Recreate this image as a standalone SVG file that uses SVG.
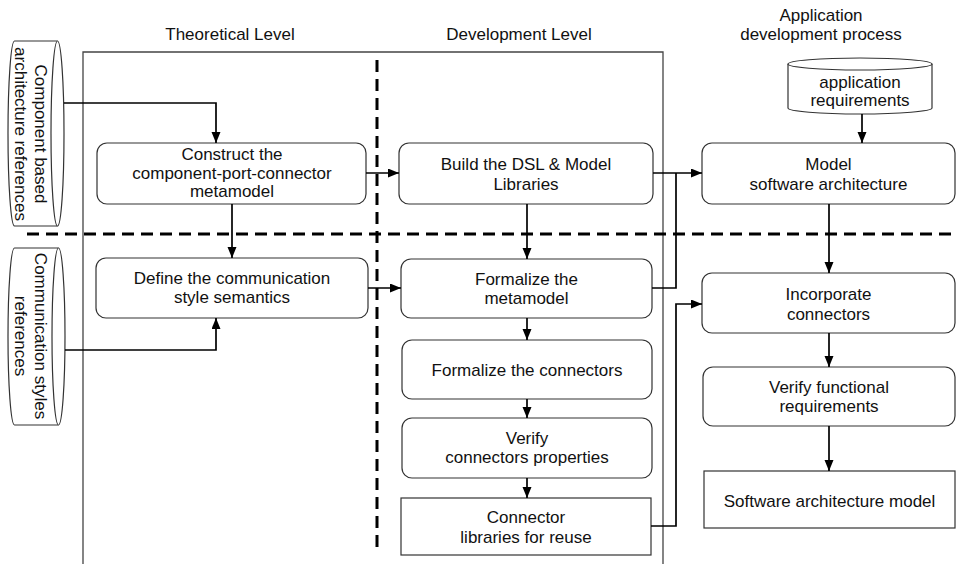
<svg xmlns="http://www.w3.org/2000/svg" width="956" height="564" viewBox="0 0 956 564">
<defs>
<style>
text{font-family:"Liberation Sans",Arial,sans-serif;font-size:17px;fill:#111;text-anchor:middle}
.box{fill:#fff;stroke:#333;stroke-width:1.2}
.frame{fill:none;stroke:#444;stroke-width:1.3}
.dash{fill:none;stroke:#000;stroke-width:3;stroke-dasharray:12 7}
.conn path{fill:none;stroke:#000;stroke-width:1.7}
.arr{marker-end:url(#ah)}
</style>
<marker id="ah" markerUnits="userSpaceOnUse" markerWidth="12" markerHeight="10" refX="11" refY="4.5" orient="auto">
<path d="M0,0 L11,4.5 L0,9 Z" fill="#000"/>
</marker>
</defs>
<rect width="956" height="564" fill="#fff"/>

<g id="headers">
<text x="230" y="40">Theoretical Level</text>
<text x="519" y="40">Development Level</text>
<text x="821" y="20.5">Application</text>
<text x="821" y="40">development process</text>
</g>

<path class="frame" d="M83,564 V52 H663 V564"/>
<g id="separators">
<path class="dash" d="M27,234 H956"/>
<path class="dash" d="M377,60 V552"/>
</g>

<g id="cyl-component">
<path class="box" d="M14.5,41 H57.5 A6.5,92.5 0 0 1 57.5,226 H14.5 A6.5,92.5 0 0 1 14.5,41 Z"/>
<path class="box" d="M57.5,41 A6.5,92.5 0 0 0 57.5,226" fill="none"/>
<text transform="translate(35,134) rotate(90)"><tspan x="0" y="0">Component based</tspan><tspan x="0" y="20">architecture references</tspan></text>
</g>

<g id="cyl-communication">
<path class="box" d="M14.5,248 H58.5 A6.5,88.5 0 0 1 58.5,425 H14.5 A6.5,88.5 0 0 1 14.5,248 Z"/>
<path class="box" d="M58.5,248 A6.5,88.5 0 0 0 58.5,425" fill="none"/>
<text transform="translate(35,336) rotate(90)"><tspan x="0" y="0">Communication styles</tspan><tspan x="0" y="20">references</tspan></text>
</g>

<g id="cyl-appreq">
<path class="box" d="M788,64 A72,6 0 0 1 932,64 V108 A72,6 0 0 1 788,108 Z"/>
<path class="box" d="M788,64 A72,6 0 0 0 932,64" fill="none"/>
<text x="860" y="88">application</text>
<text x="860" y="106">requirements</text>
</g>

<g id="construct">
<rect class="box" x="97" y="143" width="269" height="61" rx="10"/>
<text x="232" y="160">Construct the</text>
<text x="232" y="178.5">component-port-connector</text>
<text x="232" y="197">metamodel</text>
</g>

<g id="define">
<rect class="box" x="96" y="258" width="272" height="60" rx="10"/>
<text x="232" y="284">Define the communication</text>
<text x="232" y="303">style semantics</text>
</g>

<g id="build">
<rect class="box" x="399" y="143" width="254" height="61" rx="10"/>
<text x="526" y="170">Build the DSL &amp; Model</text>
<text x="526" y="189.5">Libraries</text>
</g>

<g id="formalize-meta">
<rect class="box" x="401" y="259" width="251" height="59" rx="10"/>
<text x="526.5" y="285">Formalize the</text>
<text x="526.5" y="304">metamodel</text>
</g>

<g id="formalize-conn">
<rect class="box" x="402" y="340" width="250" height="59" rx="10"/>
<text x="527" y="376">Formalize the connectors</text>
</g>

<g id="verify-conn">
<rect class="box" x="402" y="418" width="250" height="60" rx="10"/>
<text x="527" y="443.5">Verify</text>
<text x="527" y="463">connectors properties</text>
</g>

<g id="conn-lib">
<rect class="box" x="401" y="498" width="250" height="57"/>
<text x="526" y="523">Connector</text>
<text x="526" y="543">libraries for reuse</text>
</g>

<g id="model-sw">
<rect class="box" x="702" y="143" width="253" height="61" rx="10"/>
<text x="828.5" y="170">Model</text>
<text x="828.5" y="189.5">software architecture</text>
</g>

<g id="incorporate">
<rect class="box" x="702" y="273" width="253" height="60" rx="10"/>
<text x="828.5" y="300">Incorporate</text>
<text x="828.5" y="320">connectors</text>
</g>

<g id="verify-func">
<rect class="box" x="703" y="367" width="252" height="59" rx="10"/>
<text x="829" y="392.5">Verify functional</text>
<text x="829" y="412">requirements</text>
</g>

<g id="sw-model">
<rect class="box" x="704" y="471" width="251" height="57"/>
<text x="829.5" y="507">Software architecture model</text>
</g>

<g id="connectors" class="conn">
<path class="arr" d="M64,103 H216 V143"/>
<path class="arr" d="M232,204 V258"/>
<path class="arr" d="M65,350 H216 V318"/>
<path class="arr" d="M366,173 H399"/>
<path class="arr" d="M368,288 H401"/>
<path class="arr" d="M527,204 V259"/>
<path class="arr" d="M527,318 V340"/>
<path class="arr" d="M527,399 V418"/>
<path class="arr" d="M527,478 V498"/>
<path class="arr" d="M653,173 H702"/>
<path d="M652,288 H676 V173"/>
<path class="arr" d="M651,526 H676 V304 H702"/>
<path class="arr" d="M862,114 V143"/>
<path class="arr" d="M829,204 V273"/>
<path class="arr" d="M829,333 V367"/>
<path class="arr" d="M829,426 V471"/>
</g>
</svg>
